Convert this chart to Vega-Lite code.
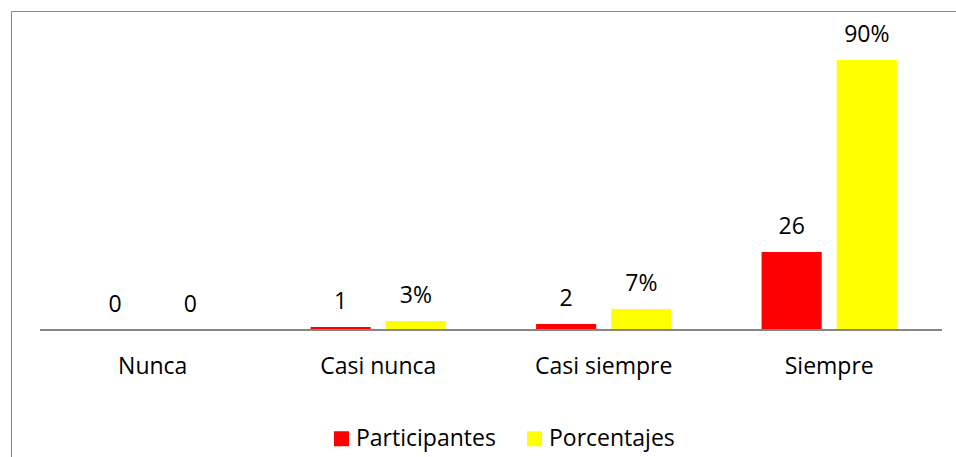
{
  "$schema": "https://vega.github.io/schema/vega-lite/v6.json",
  "width": 946,
  "height": 448,
  "padding": {"left": 11, "top": 11, "right": -1, "bottom": -2},
  "autosize": {"type": "none"},
  "background": "#ffffff",
  "config": {"view": {"stroke": "#8a8a8a", "strokeWidth": 1}, "font": "Open Sans"},
  "data": {"values": [
    {"categoria": "Nunca", "serie": "Participantes", "valor": 0, "etiqueta": "0"},
    {"categoria": "Nunca", "serie": "Porcentajes", "valor": 0, "etiqueta": "0"},
    {"categoria": "Casi nunca", "serie": "Participantes", "valor": 1, "etiqueta": "1"},
    {"categoria": "Casi nunca", "serie": "Porcentajes", "valor": 3, "etiqueta": "3%"},
    {"categoria": "Casi siempre", "serie": "Participantes", "valor": 2, "etiqueta": "2"},
    {"categoria": "Casi siempre", "serie": "Porcentajes", "valor": 7, "etiqueta": "7%"},
    {"categoria": "Siempre", "serie": "Participantes", "valor": 26, "etiqueta": "26"},
    {"categoria": "Siempre", "serie": "Porcentajes", "valor": 90, "etiqueta": "90%"}
  ]},
  "layer": [
    {
      "mark": {"type": "bar"},
      "encoding": {
        "x": {
          "field": "categoria", "type": "nominal",
          "sort": ["Nunca", "Casi nunca", "Casi siempre", "Siempre"],
          "scale": {"paddingInner": 0.4, "paddingOuter": 0.2976, "align": 0.552},
          "axis": {"title": null, "labelAngle": 0, "ticks": false, "tickSize": 0, "labelPadding": 42, "labelBaseline": "alphabetic", "labelFontSize": 23, "labelFont": "Open Sans", "labelColor": "#000000", "domain": false, "offset": -128, "grid": false}
        },
        "xOffset": {"field": "serie", "type": "nominal", "sort": ["Participantes", "Porcentajes"], "scale": {"paddingInner": 0.2}},
        "y": {"field": "valor", "type": "quantitative", "scale": {"domain": [-43, 106.33], "nice": false, "zero": false}, "axis": null},
        "color": {
          "field": "serie", "type": "nominal",
          "scale": {"domain": ["Participantes", "Porcentajes"], "range": ["#FF0000", "#FFFF00"]},
          "legend": {"orient": "none", "direction": "horizontal", "legendX": 319, "legendY": 416, "title": null, "symbolType": "square", "symbolSize": 225, "symbolStrokeWidth": 0, "labelFontSize": 23, "labelFont": "Open Sans", "labelColor": "#000000", "columnPadding": 27, "labelOffset": 3}
        }
      }
    },
    {
      "mark": {"type": "rule", "color": "#868686", "strokeWidth": 1.5},
      "encoding": {
        "x": {"datum": "Nunca", "type": "nominal", "bandPosition": -0.3333},
        "x2": {"datum": "Siempre", "bandPosition": 1.3333},
        "y": {"datum": 0, "type": "quantitative"}
      }
    },
    {
      "mark": {"type": "text", "dy": -18, "baseline": "alphabetic", "fontSize": 23, "font": "Open Sans", "color": "#000000"},
      "encoding": {
        "x": {"field": "categoria", "type": "nominal", "sort": ["Nunca", "Casi nunca", "Casi siempre", "Siempre"]},
        "xOffset": {"field": "serie", "type": "nominal", "sort": ["Participantes", "Porcentajes"]},
        "y": {"field": "valor", "type": "quantitative"},
        "text": {"field": "etiqueta"}
      }
    }
  ]
}
